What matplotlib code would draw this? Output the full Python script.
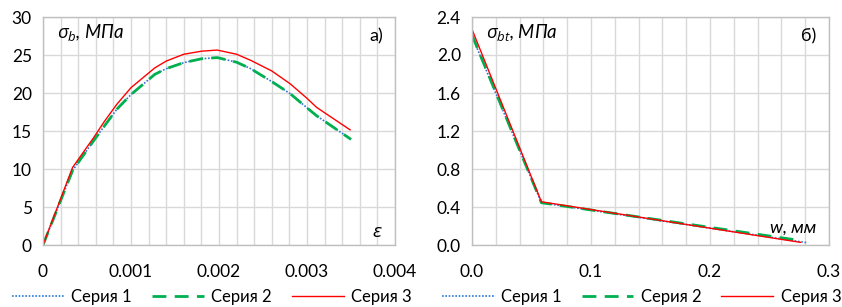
import matplotlib
matplotlib.use('Agg')
import matplotlib.pyplot as plt
from matplotlib.ticker import MultipleLocator, FormatStrFormatter

plt.rcParams['font.family'] = ['Lato', 'Open Sans', 'DejaVu Sans']
plt.rcParams['mathtext.fontset'] = 'custom'
plt.rcParams['mathtext.it'] = 'Open Sans:italic'
plt.rcParams['mathtext.rm'] = 'Open Sans'

# panel a) compression: strain vs stress
eps_3 = [0, 0.000336, 0.000574, 0.0007, 0.000838, 0.001, 0.00127, 0.0014, 0.0016, 0.0018,
         0.00198, 0.0022, 0.00236, 0.0026, 0.00281, 0.003, 0.00311, 0.00349]
sig_3 = [0, 10.2, 14.1, 16.3, 18.5, 20.7, 23.3, 24.2, 25.1, 25.5,
         25.65, 25.1, 24.3, 22.9, 21.2, 19.3, 18.1, 15.15]
eps_12 = [0, 0.000336, 0.000574, 0.0007, 0.000838, 0.001, 0.00127, 0.0014, 0.0016, 0.0018,
          0.00198, 0.0022, 0.00236, 0.0026, 0.00281, 0.003, 0.00311, 0.0035]
sig_1 = [0, 9.8, 13.7, 15.7, 17.85, 19.8, 22.45, 23.2, 24.0, 24.5,
         24.66, 24.05, 23.2, 21.5, 19.9, 18.05, 17.0, 13.9]
sig_2 = [0, 9.8, 13.7, 15.7, 17.85, 19.8, 22.45, 23.2, 24.0, 24.5,
         24.66, 24.05, 23.2, 21.5, 19.9, 18.05, 17.0, 13.9]

# panel б) tension softening: crack opening vs stress
w_1 = [0, 0.0583, 0.281]
sbt_1 = [2.20, 0.445, 0.025]
w_2 = [0, 0.0583, 0.277]
sbt_2 = [2.21, 0.445, 0.045]
w_3 = [0, 0.0583, 0.276]
sbt_3 = [2.27, 0.455, 0.028]

labels = ['Серия 1', 'Серия 2', 'Серия 3']
styles = [dict(color='#2E75D6', linestyle=(0, (1, 1)), linewidth=1.2),
          dict(color='#00B050', linestyle=(0, (5, 3)), linewidth=2.0),
          dict(color='#FF0000', linestyle='-', linewidth=1.0)]

fs = 12.5
fig = plt.figure(figsize=(8.42, 3.07), dpi=100)
W, H = 842, 307
ax1 = fig.add_axes([43 / W, 62 / H, 352 / W, 228 / H])
ax2 = fig.add_axes([472 / W, 62 / H, 357 / W, 228 / H])


def style_axes(ax, xshift):
    ax.grid(True, which='both', color='#D9D9D9', linewidth=1.0)
    ax.grid(False, which='minor', axis='y')
    ax.set_axisbelow(True)
    for s in ax.spines.values():
        s.set_color('#BFBFBF')
        s.set_linewidth(1.0)
    ax.tick_params(which='both', length=0, labelsize=fs, colors='#000000', pad=8)
    ax.tick_params(axis='x', pad=14)
    ax.legend(loc='center', bbox_to_anchor=(0.5 + xshift, -0.228), ncol=3, frameon=False,
              fontsize=12, handlelength=3.1, columnspacing=1.2, handletextpad=0.45,
              borderpad=0, borderaxespad=0)


ax1.plot(eps_12, sig_1, label=labels[0], **styles[0])
ax1.plot(eps_12, sig_2, label=labels[1], **styles[1])
ax1.plot(eps_3, sig_3, label=labels[2], **styles[2])
ax1.set_xlim(0, 0.004)
ax1.set_ylim(0, 30)
ax1.set_xticks([0, 0.001, 0.002, 0.003, 0.004])
ax1.set_xticklabels(['0', '0.001', '0.002', '0.003', '0.004'])
ax1.xaxis.set_minor_locator(MultipleLocator(0.0002))
ax1.yaxis.set_major_locator(MultipleLocator(5))
style_axes(ax1, -0.02)
ax1.text(0.04, 0.93, r'$\sigma_b$, МПа', transform=ax1.transAxes, fontsize=13.5,
         fontstyle='italic', va='center', ha='left')
ax1.text(0.965, 0.915, 'а)', transform=ax1.transAxes, fontsize=13, va='center', ha='right')
ax1.text(0.965, 0.06, r'$\varepsilon$', transform=ax1.transAxes, fontsize=14,
         va='center', ha='right')

ax2.plot(w_1, sbt_1, label=labels[0], **styles[0])
ax2.plot(w_2, sbt_2, label=labels[1], **styles[1])
ax2.plot(w_3, sbt_3, label=labels[2], **styles[2])
ax2.set_xlim(0, 0.3)
ax2.set_ylim(0, 2.4)
ax2.xaxis.set_major_locator(MultipleLocator(0.1))
ax2.xaxis.set_minor_locator(MultipleLocator(0.02))
ax2.yaxis.set_major_locator(MultipleLocator(0.4))
ax2.xaxis.set_major_formatter(FormatStrFormatter('%.1f'))
ax2.yaxis.set_major_formatter(FormatStrFormatter('%.1f'))
style_axes(ax2, -0.025)
ax2.text(0.04, 0.93, r'$\sigma_{bt}$, МПа', transform=ax2.transAxes, fontsize=13.5,
         fontstyle='italic', va='center', ha='left')
ax2.text(0.965, 0.915, 'б)', transform=ax2.transAxes, fontsize=13, va='center', ha='right')
ax2.text(0.965, 0.075, 'w, мм', transform=ax2.transAxes, fontsize=13,
         fontstyle='italic', va='center', ha='right')

fig.savefig('out.png', dpi=100)
